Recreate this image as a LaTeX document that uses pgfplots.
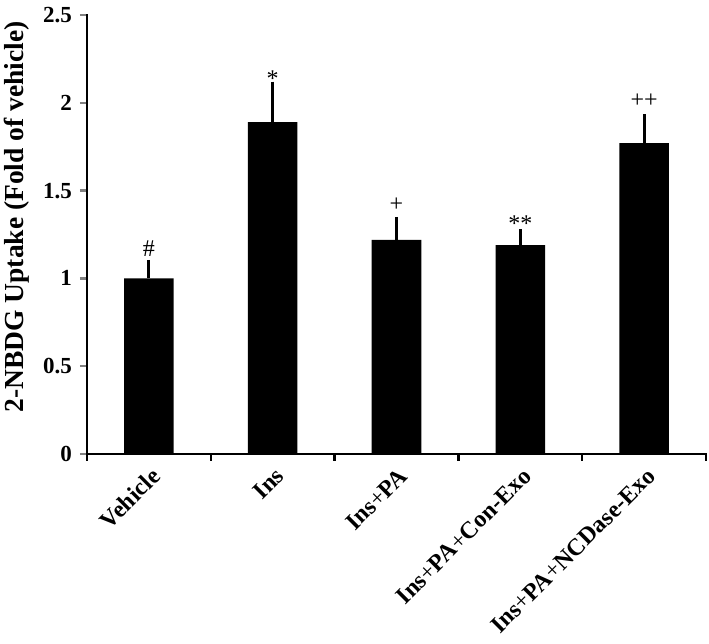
\documentclass[border=0pt]{standalone}
\usepackage{fontspec}
\setmainfont{Liberation Serif}
\usepackage{pgfplots}
\pgfplotsset{compat=1.18}

\newcommand{\pl}{{\mdseries+}}

\begin{document}
\begin{tikzpicture}
\useasboundingbox (-87pt,-190pt) rectangle (622pt,454pt);
\begin{axis}[
  anchor=south west, at={(0pt,0pt)},
  scale only axis, width=619pt, height=439pt,
  xmin=-0.5, xmax=4.5, ymin=0, ymax=2.5,
  axis lines*=left, axis line style={line width=2.6pt, line cap=rect},
  ytick={0,0.5,...,2.5},
  yticklabels={0,0.5,1,1.5,2,2.5},
  xtick={0,1,2,3,4},
  xticklabels={Vehicle,Ins,Ins\pl PA,Ins\pl PA\pl Con-Exo,Ins\pl PA\pl NCDase-Exo},
  minor xtick={-0.5,0.5,...,4.5},
  tick align=outside, tick pos=left,
  major tick length=7pt, minor tick length=7pt,
  x tick style={draw=none},
  minor x tick style={draw=black, line width=2.4pt},
  y tick style={line width=2.4pt},
  yticklabel style={font=\bfseries\fontsize{23}{27}\selectfont, /pgf/number format/assume math mode=true, inner sep=3pt, xshift=-5pt},
  xticklabel style={font=\bfseries\fontsize{24}{28}\selectfont, rotate=45, anchor=east, inner sep=2pt, xshift=-1pt, yshift=-13pt},
  ylabel={2-NBDG Uptake (Fold of vehicle)},
  every axis y label/.style={at={(axis description cs:-0.113,0.54)}, rotate=90, anchor=center,
    font=\bfseries\fontsize{27.5}{31}\selectfont},
  clip=false,
]
\addplot[ybar, bar width=0.4, fill=black, draw=none,
  error bars/.cd, y dir=plus, y explicit,
  error bar style={line width=3pt, black},
  error mark options={line width=3pt, mark size=3.5pt, black}]
  coordinates {
  (0,1.00) +- (0,0.085)
  (1,1.89) +- (0,0.21)
  (2,1.22) +- (0,0.11)
  (3,1.19) +- (0,0.07)
  (4,1.77) +- (0,0.145)
  };
\begin{scope}[every node/.style={font=\fontsize{24}{28}\selectfont, anchor=center}]
\node at (axis cs:0,1.17) {\#};
\node at (axis cs:1,2.14) {*};
\node at (axis cs:2,1.42) {+};
\node at (axis cs:3,1.31) {**};
\node at (axis cs:4,2.01) {++};
\end{scope}
\end{axis}
\end{tikzpicture}
\end{document}
